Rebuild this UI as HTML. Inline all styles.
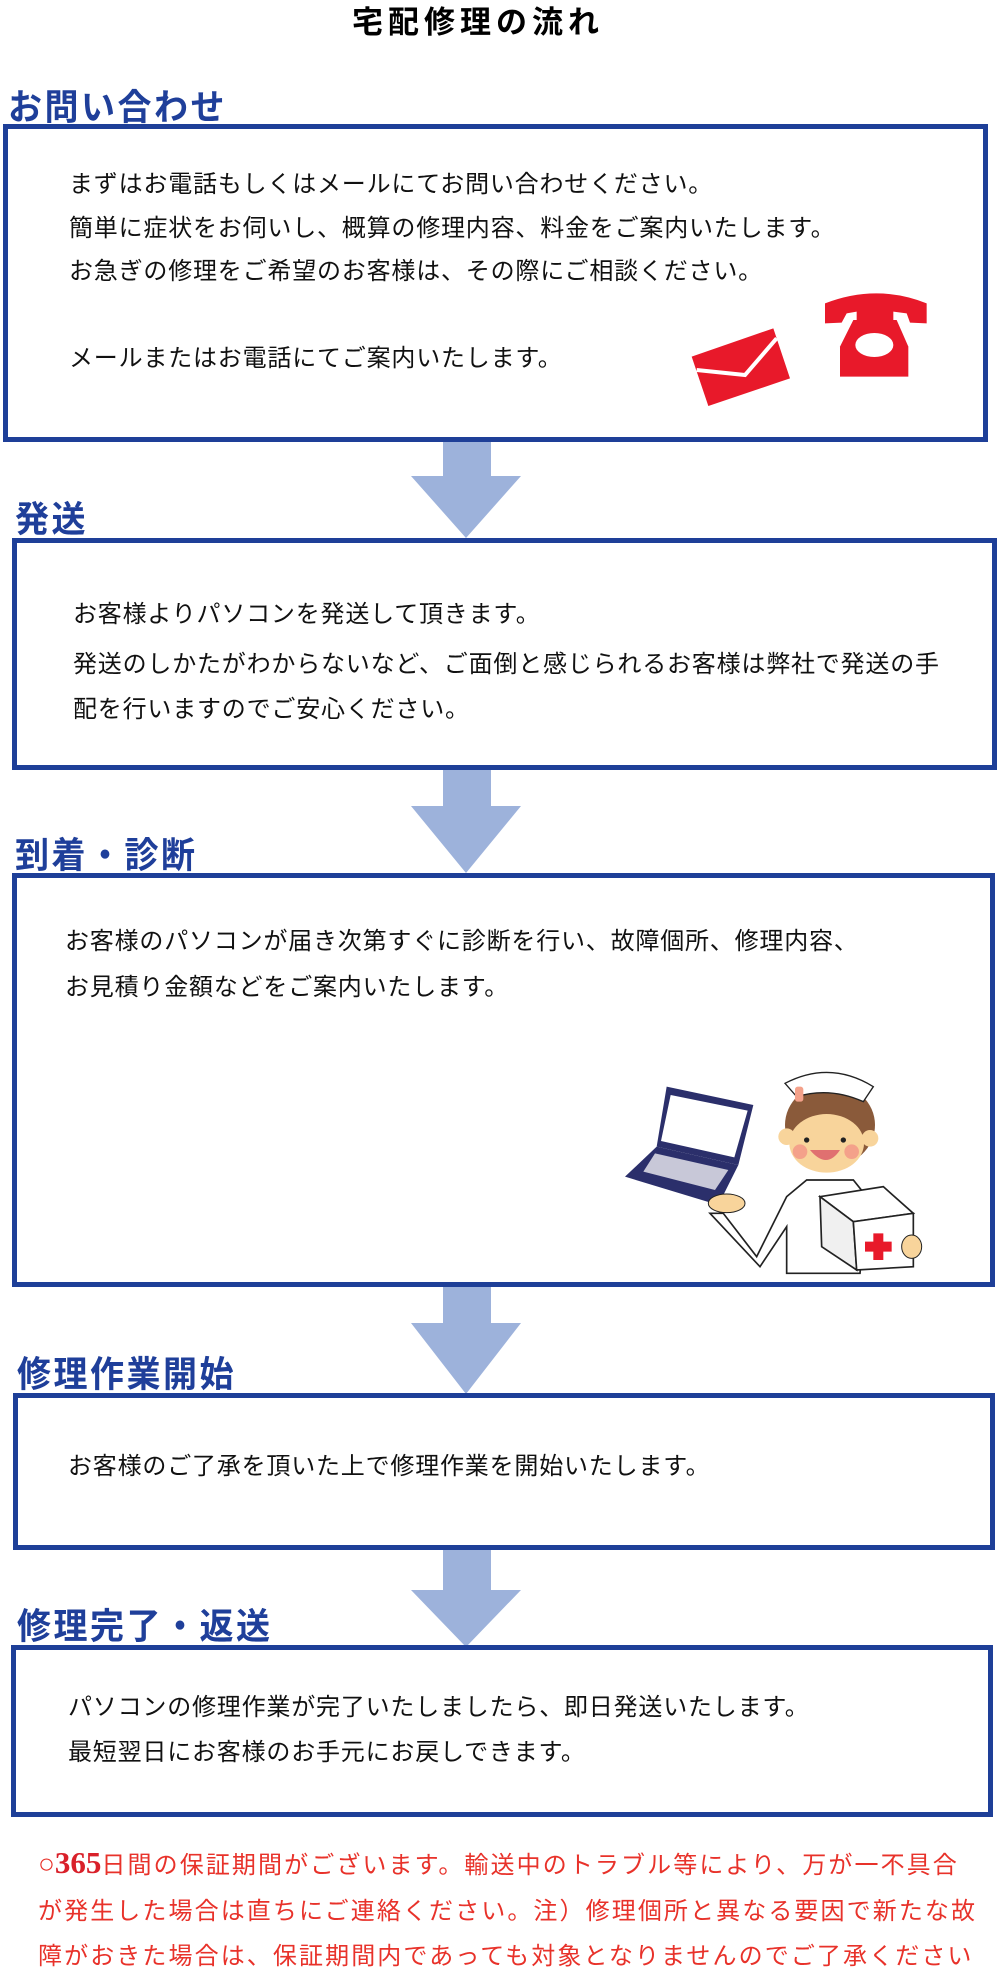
<!DOCTYPE html>
<html><head><meta charset="utf-8"><style>
html,body{margin:0;padding:0;background:#fff;}
body{width:1000px;height:1979px;position:relative;overflow:hidden;font-family:"Liberation Sans","Noto Sans CJK JP",sans-serif;}
.a{position:absolute;white-space:nowrap;}
.box{position:absolute;border:5px solid #1e3f98;box-sizing:border-box;background:#fff;}
.h{position:absolute;font-size:34px;line-height:34px;color:#1f3f9a;white-space:nowrap;letter-spacing:2.5px;font-weight:bold;transform:scaleY(1.05);transform-origin:bottom left;}
.t{position:absolute;font-size:24px;line-height:24px;color:#111;white-space:nowrap;letter-spacing:0.8px;}
.r{position:absolute;font-size:24px;line-height:26px;color:#e8322a;white-space:nowrap;letter-spacing:2.1px;left:38px;}
</style></head><body>
<div class="a" style="left:0;width:956px;text-align:center;top:5px;font-size:31px;line-height:36px;font-weight:bold;letter-spacing:5px;">宅配修理の流れ</div>

<!-- arrows -->
<svg class="a" style="left:0;top:0" width="1000" height="1979">
<g fill="#9db2db">
<polygon points="443,438 491,438 491,476 521,476 466,538 411,476 443,476"/>
<polygon points="443,770 491,770 491,806 521,806 466,873 411,806 443,806"/>
<polygon points="443,1285 491,1285 491,1323 521,1323 466,1394 411,1323 443,1323"/>
<polygon points="443,1548 491,1548 491,1590 521,1590 466,1647 411,1590 443,1590"/>
</g></svg>

<div class="h" style="left:8px;top:92px;">お問い合わせ</div>
<div class="box" style="left:3px;top:124px;width:985px;height:318px;"></div>
<div class="t" style="left:69px;top:173px;">まずはお電話もしくはメールにてお問い合わせください。</div>
<div class="t" style="left:69px;top:217px;">簡単に症状をお伺いし、概算の修理内容、料金をご案内いたします。</div>
<div class="t" style="left:69px;top:260px;">お急ぎの修理をご希望のお客様は、その際にご相談ください。</div>
<div class="t" style="left:69px;top:347px;">メールまたはお電話にてご案内いたします。</div>
<svg class="a" style="left:680px;top:280px" width="260" height="140" viewBox="0 0 780 420">
<g fill="#e8192a">
<polygon points="35,230 280,145 330,295 85,378"/>
<path d="M435,70 Q590,10 740,70 L740,130 L690,128 L680,100 L640,95 L640,120 L530,120 L530,95 L500,100 L485,128 L435,130 Z"/>
<path d="M520,120 L650,120 L685,200 L685,290 L480,290 L480,200 Z"/>
</g>
<polyline points="50,270 195,285 290,175" fill="none" stroke="#fff" stroke-width="12"/>
<ellipse cx="583" cy="195" rx="57" ry="36" fill="#fff"/>
</svg>

<div class="h" style="left:15px;top:504px;">発送</div>
<div class="box" style="left:12px;top:538px;width:985px;height:232px;"></div>
<div class="t" style="left:73px;top:603px;">お客様よりパソコンを発送して頂きます。</div>
<div class="t" style="left:73px;top:653px;">発送のしかたがわからないなど、ご面倒と感じられるお客様は弊社で発送の手</div>
<div class="t" style="left:73px;top:698px;">配を行いますのでご安心ください。</div>

<div class="h" style="left:15px;top:840px;">到着・診断</div>
<div class="box" style="left:12px;top:873px;width:983px;height:414px;"></div>
<div class="t" style="left:65px;top:930px;">お客様のパソコンが届き次第すぐに診断を行い、故障個所、修理内容、</div>
<div class="t" style="left:65px;top:976px;">お見積り金額などをご案内いたします。</div>
<svg class="a" style="left:600px;top:1040px" width="340" height="240" viewBox="0 0 1020 720">
<polygon points="200,140 460,195 415,375 170,320" fill="#2b2f6b"/>
<polygon points="212,165 443,212 403,352 183,303" fill="#fff"/>
<polygon points="170,320 415,375 355,495 75,410" fill="#2b2f6b"/>
<polygon points="165,340 385,390 345,450 130,395" fill="#c8c8d8"/>
<ellipse cx="380" cy="490" rx="55" ry="28" fill="#f8d49b" stroke="#222" stroke-width="3"/>
<path d="M370,520 L470,650 L560,470 L620,420 L760,420 L800,470 L780,700 L560,700 L560,560 L480,680 L330,520 Z" fill="#fff" stroke="#222" stroke-width="5"/>
<ellipse cx="690" cy="255" rx="135" ry="125" fill="#8a5a3a"/>
<ellipse cx="560" cy="290" rx="25" ry="25" fill="#f8d49b"/>
<ellipse cx="810" cy="295" rx="25" ry="25" fill="#f8d49b"/>
<ellipse cx="680" cy="310" rx="112" ry="88" fill="#f8d49b"/>
<circle cx="620" cy="300" r="8" fill="#222"/><circle cx="730" cy="300" r="8" fill="#222"/>
<circle cx="600" cy="335" r="22" fill="#f4a18a"/><circle cx="755" cy="335" r="22" fill="#f4a18a"/>
<path d="M630,330 Q680,390 720,330 Z" fill="#e07070"/>
<path d="M555,130 Q690,60 820,140 L790,185 Q690,140 590,170 Z" fill="#fff" stroke="#222" stroke-width="4"/>
<rect x="585" y="140" width="25" height="45" rx="8" fill="#f4a18a"/>
<polygon points="660,470 850,440 940,520 760,545" fill="#fff" stroke="#222" stroke-width="5"/>
<polygon points="660,470 760,545 770,690 665,620" fill="#f0f0f0" stroke="#222" stroke-width="5"/>
<polygon points="760,545 940,520 940,680 770,690" fill="#fff" stroke="#222" stroke-width="5"/>
<path d="M820,580 h30 v25 h25 v30 h-25 v25 h-30 v-25 h-25 v-30 h25 z" fill="#e8192a"/>
<ellipse cx="935" cy="620" rx="30" ry="35" fill="#f8d49b" stroke="#222" stroke-width="3"/>
</svg>

<div class="h" style="left:17px;top:1359px;">修理作業開始</div>
<div class="box" style="left:13px;top:1393px;width:982px;height:157px;"></div>
<div class="t" style="left:68px;top:1455px;">お客様のご了承を頂いた上で修理作業を開始いたします。</div>

<div class="h" style="left:17px;top:1611px;">修理完了・返送</div>
<div class="box" style="left:11px;top:1645px;width:982px;height:172px;"></div>
<div class="t" style="left:68px;top:1696px;">パソコンの修理作業が完了いたしましたら、即日発送いたします。</div>
<div class="t" style="left:68px;top:1741px;">最短翌日にお客様のお手元にお戻しできます。</div>

<div class="r" style="top:1850px;"><span style="font-size:28px;letter-spacing:0;">○</span><span style="font-family:'Liberation Serif',serif;font-weight:bold;font-size:31px;letter-spacing:0;color:#d9202a;">365</span>日間の保証期間がございます。輸送中のトラブル等により、万が一不具合</div>
<div class="r" style="top:1899px;">が発生した場合は直ちにご連絡ください。注）修理個所と異なる要因で新たな故</div>
<div class="r" style="top:1944px;">障がおきた場合は、保証期間内であっても対象となりませんのでご了承ください</div>
</body></html>
